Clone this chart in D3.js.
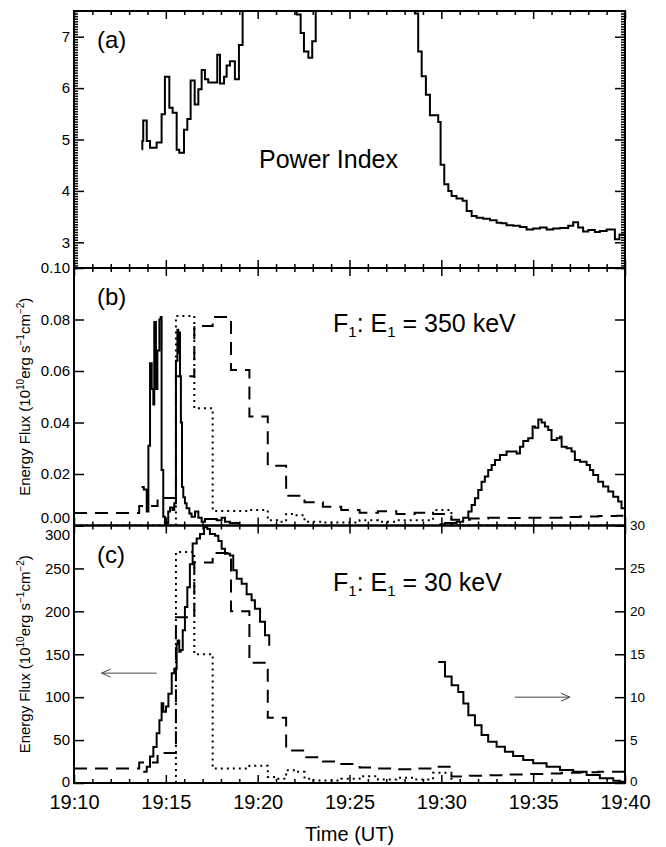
<!DOCTYPE html>
<html>
<head>
<meta charset="utf-8">
<script src="https://cdn.jsdelivr.net/npm/d3@7"></script>
<style>
  body { margin: 0; background: #fff; }
  svg text { font-family: "Liberation Sans", Arial, Helvetica, sans-serif; fill: #000; }
</style>
</head>
<body>
<div id="chart"></div>
<script>
// time values are minutes after 19:10 UT
var xTickMinutes = [0, 5, 10, 15, 20, 25, 30];
var xTickLabels  = ["19:10", "19:15", "19:20", "19:25", "19:30", "19:35", "19:40"];

var powerTicks = [3, 4, 5, 6, 7];
var fluxBTicks = [0, 0.02, 0.04, 0.06, 0.08, 0.10];
var fluxBLabels = ["0.00", "0.02", "0.04", "0.06", "0.08", "0.10"];
var fluxCTicks = [0, 50, 100, 150, 200, 250, 300];
var fluxCRightTicks = [0, 5, 10, 15, 20, 25, 30];

// (a) power index
var powerTime = [3.68, 3.72, 3.77, 3.96, 4.14, 4.50, 4.77, 4.95, 5.19, 5.37, 5.59, 5.73, 5.99, 6.17, 6.35,
                 6.57, 6.77, 6.95, 7.13, 7.31, 7.80, 7.95, 8.17, 8.31, 8.49, 8.76, 8.98, 9.18,
                 12.12, 12.34, 12.52, 12.76, 12.97, 13.16,
                 18.56, 18.74, 18.93, 19.16, 19.38, 19.83, 19.96, 20.16, 20.38, 20.56, 20.83, 21.16,
                 21.38, 21.65, 21.92, 22.28, 22.65, 23.01, 23.28, 23.55, 23.91, 24.28, 24.64, 25.00,
                 25.37, 25.73, 26.09, 26.46, 26.91, 27.18, 27.45, 27.72, 28.00, 28.36, 28.63, 29.00,
                 29.27, 29.45, 29.70, 30.0];
var powerVal  = [4.81, 4.97, 5.37, 4.97, 4.84, 4.94, 5.49, 6.22, 5.62, 5.52, 4.80, 4.74, 5.19, 5.40, 6.15,
                 5.68, 5.98, 6.35, 6.17, 6.11, 6.65, 6.09, 6.22, 6.44, 6.52, 6.17, 6.84, 8.6,
                 7.43, 7.07, 6.71, 6.59, 6.91, 8.4,
                 7.45, 6.71, 6.23, 5.87, 5.47, 5.34, 4.51, 4.13, 4.00, 3.90, 3.85, 3.81,
                 3.61, 3.51, 3.48, 3.46, 3.43, 3.38, 3.37, 3.33, 3.32, 3.30, 3.25, 3.27,
                 3.29, 3.25, 3.27, 3.28, 3.32, 3.39, 3.29, 3.21, 3.24, 3.20, 3.22, 3.25,
                 3.25, 3.06, 3.15, 3.15];

// (b) 350 keV, solid: early spikes and late hump
var solidB1Time = [3.68, 3.80, 3.96, 4.05, 4.14, 4.23, 4.32, 4.37, 4.46, 4.54, 4.65, 4.72, 4.77, 4.86, 4.95,
                   5.04, 5.13, 5.23, 5.37, 5.46, 5.55, 5.63, 5.68, 5.73, 5.77, 5.82, 5.88, 5.95, 6.04,
                   6.13, 6.28, 6.40, 6.59, 6.77, 6.95, 7.13, 7.40, 7.77, 8.04, 8.22, 8.49, 9.04];
var solidB1Val  = [0.015, 0.014, 0.0054, 0.031, 0.063, 0.053, 0.047, 0.079, 0.053, 0.068, 0.080, 0.081, 0.0216, 0.0034, 0.0,
                   0.001, 0.0054, 0.007, 0.006, 0.0086, 0.064, 0.076, 0.067, 0.075, 0.058, 0.040, 0.015, 0.011, 0.0086,
                   0.0067, 0.0047, 0.0034, 0.0054, 0.003, 0.0015, 0.0025, 0.0025, 0.002, 0.003, 0.0015, 0.001, 0.001];
var solidB2Time = [19.9, 20.2, 20.83, 21.19, 21.47, 21.65, 21.83, 22.01, 22.19, 22.37, 22.55, 22.74, 22.92, 23.19,
                   23.55, 23.91, 24.10, 24.28, 24.46, 24.73, 24.97, 25.10, 25.28, 25.46, 25.64, 25.82, 26.00,
                   26.28, 26.46, 26.55, 26.82, 27.09, 27.27, 27.55, 27.91, 28.09, 28.27, 28.54, 28.81, 29.09,
                   29.36, 29.63, 29.81, 30.0];
var solidB2Val  = [0.0005, 0.001, 0.0015, 0.003, 0.0054, 0.008, 0.0106, 0.0138, 0.017, 0.019, 0.0216, 0.0235, 0.0254, 0.0274,
                   0.0287, 0.0287, 0.028, 0.0306, 0.0328, 0.0339, 0.0384, 0.038, 0.0412, 0.040, 0.0384, 0.0371, 0.0332,
                   0.0339, 0.0345, 0.0306, 0.030, 0.0287, 0.0254, 0.0248, 0.0235, 0.0216, 0.0196, 0.017, 0.0151, 0.0132,
                   0.0112, 0.0093, 0.0067, 0.0047];

// (b) dashed, one-minute bins
var dashedBTime = [0, 3.55, 4.55, 5.55, 6.55, 7.55, 8.55, 9.55, 10.55, 11.55, 12.55, 13.55, 14.55, 15.55,
                   16.55, 17.55, 18.55, 19.55, 20.55, 21.55, 22.55, 23.55, 24.55, 25.55, 26.55, 27.55,
                   28.55, 29.55, 30];
var dashedBVal  = [0.0049, 0.0076, 0.0107, 0.058, 0.0775, 0.081, 0.0604, 0.0423, 0.0232, 0.0116, 0.009, 0.0073, 0.006, 0.005,
                   0.0055, 0.0045, 0.005, 0.0045, 0.0022, 0.0027, 0.003, 0.0029, 0.003, 0.003, 0.0033, 0.0035,
                   0.0037, 0.0038, 0.0038];

// (b) dotted
var dottedBTime = [0, 5.55, 6.55, 7.55, 8.55, 9.55, 10.55, 11.05, 11.55, 12.05, 12.55, 13.55, 15.55, 16.55,
                   17.55, 19.55, 20.55, 30];
var dottedBVal  = [0, 0.0814, 0.0455, 0.0056, 0.0056, 0.006, 0.002, 0.0015, 0.0045, 0.004, 0.0015, 0.0012, 0.002, 0.0015,
                   0.002, 0.006, 0, 0];

// (c) 30 keV, solid on the left axis
var solidC1Time = [3.77, 3.96, 4.14, 4.32, 4.50, 4.65, 4.77, 4.86, 5.01, 5.14, 5.32, 5.46, 5.59, 5.64, 5.73,
                   5.81, 5.92, 6.04, 6.17, 6.31, 6.46, 6.68, 6.86, 7.08, 7.26, 7.40, 7.68, 7.86, 8.04,
                   8.22, 8.49, 8.67, 8.86, 9.13, 9.40, 9.67, 9.85, 10.13, 10.40, 10.63];
var solidC1Val  = [13, 19, 31, 42, 58, 73, 93, 83, 89, 104, 128, 133, 162, 166, 153,
                   155, 178, 205, 228, 255, 279, 285, 290, 298, 296, 290, 288, 282, 273,
                   267, 265, 248, 238, 232, 220, 213, 203, 188, 172, 160];

// (c) solid on the right axis
var solidC2Time = [19.83, 20.2, 20.56, 20.92, 21.2, 21.47, 21.83, 22.19, 22.55, 23.01, 23.46, 23.91, 24.46,
                   25.0, 25.73, 26.46, 27.18, 27.91, 28.63, 29.36, 29.72, 30.0];
var solidC2Val  = [14.1, 12.4, 11.4, 10.6, 9.27, 7.9, 6.74, 5.58, 4.8, 4.22, 3.64, 3.14, 2.67,
                   2.29, 1.9, 1.51, 1.31, 0.93, 0.54, 0.27, 0.15, 0.1];

// (c) dashed, one-minute bins
var dashedCTime = [0, 3.55, 4.55, 5.55, 6.55, 7.55, 8.55, 9.55, 10.55, 11.55, 12.55, 13.55, 14.55, 15.55,
                   16.55, 17.55, 18.55, 19.55, 20.55, 21.55, 22.55, 23.55, 24.55, 25.55, 26.55, 27.55,
                   28.55, 29.55, 30];
var dashedCVal  = [17, 24, 35, 193, 257, 268, 200, 140, 76, 38, 30, 25, 22, 18,
                   17, 16, 17, 19, 7.5, 8.5, 9, 10, 10.5, 11, 12, 12.5,
                   13, 13, 13];

// (c) dotted
var dottedCTime = [0, 5.55, 6.55, 7.55, 8.55, 9.55, 10.55, 11.05, 11.55, 12.05, 12.55, 13.05, 14.55, 15.55,
                   16.55, 17.55, 18.55, 19.55, 20.55, 30];
var dottedCVal  = [0, 269, 150, 17, 17, 20, 7, 5, 15, 13, 5, 3, 5, 8,
                   4, 6, 4, 12, 0, 0];

// layout
var svgWidth = 666, svgHeight = 847;
var plotLeft = 74, plotRight = 625;
var panels = [
  { name: "a", top: 11, bottom: 268 },
  { name: "b", top: 268, bottom: 525.5 },
  { name: "c", top: 525.5, bottom: 783 }
];

var svg = d3.select("#chart").append("svg")
  .attr("width", svgWidth)
  .attr("height", svgHeight);

svg.append("rect").attr("width", svgWidth).attr("height", svgHeight).attr("fill", "white");

var x = d3.scaleLinear().domain([0, 30]).range([plotLeft, plotRight]);

var yA = d3.scaleLinear().domain([2.5, 7.5]).range([panels[0].bottom, panels[0].top]);
var yB = d3.scaleLinear().domain([0, 0.10]).range([panels[1].bottom, panels[1].top]);
var yC = d3.scaleLinear().domain([0, 300]).range([panels[2].bottom, panels[2].top]);
var yCR = d3.scaleLinear().domain([0, 30]).range([panels[2].bottom, panels[2].top]);

// clip paths
var defs = svg.append("defs");
panels.forEach(function(p) {
  defs.append("clipPath").attr("id", "clip-" + p.name)
    .append("rect")
    .attr("x", plotLeft).attr("y", p.top)
    .attr("width", plotRight - plotLeft).attr("height", p.bottom - p.top);
});

function zip(ts, vs) { return ts.map(function(t, i) { return [t, vs[i]]; }); }

function drawSeries(panelName, ts, vs, yScale, style) {
  var line = d3.line()
    .x(function(d) { return x(d[0]); })
    .y(function(d) { return yScale(d[1]); })
    .curve(d3.curveStepAfter);
  svg.append("path")
    .datum(zip(ts, vs))
    .attr("clip-path", "url(#clip-" + panelName + ")")
    .attr("d", line)
    .attr("fill", "none")
    .attr("stroke", "black")
    .attr("stroke-width", style.width || 2)
    .attr("stroke-dasharray", style.dash || null);
}

var DASH = "13,8", DOT = "2,4";

drawSeries("a", powerTime, powerVal, yA, {});

drawSeries("b", dottedBTime, dottedBVal, yB, { dash: DOT });
drawSeries("b", dashedBTime, dashedBVal, yB, { dash: DASH });
drawSeries("b", solidB1Time, solidB1Val, yB, {});
drawSeries("b", solidB2Time, solidB2Val, yB, {});

drawSeries("c", dottedCTime, dottedCVal, yC, { dash: DOT });
drawSeries("c", dashedCTime, dashedCVal, yC, { dash: DASH });
drawSeries("c", solidC1Time, solidC1Val, yC, {});
drawSeries("c", solidC2Time, solidC2Val, yCR, {});

// axes and frames
var xMinor = d3.range(0, 31, 1).filter(function(m) { return m % 5 !== 0; });

function styleAxis(g, fontSize) {
  g.select(".domain").remove();
  g.selectAll(".tick line").attr("stroke", "black").attr("stroke-width", 1.5);
  g.selectAll(".tick text").attr("font-size", fontSize || 15)
    .attr("font-family", "Liberation Sans, Arial, sans-serif").attr("fill", "black");
}

panels.forEach(function(p, i) {
  // top and bottom time ticks
  [["top", p.top, d3.axisTop], ["bottom", p.bottom, d3.axisBottom]].forEach(function(s) {
    var gMaj = svg.append("g").attr("transform", "translate(0," + s[1] + ")")
      .call(s[2](x).tickValues(xTickMinutes).tickSize(-8).tickPadding(12)
        .tickFormat(function(d, k) { return (p.name === "c" && s[0] === "bottom") ? xTickLabels[k] : ""; }));
    styleAxis(gMaj, 20);
    var gMin = svg.append("g").attr("transform", "translate(0," + s[1] + ")")
      .call(s[2](x).tickValues(xMinor).tickSize(-4).tickFormat(""));
    styleAxis(gMin);
  });
});

// panel (a) y axes with dense minor ticks
var aMinor = d3.range(50, 151).map(function(k) { return k / 20; }).filter(function(v) { return Math.abs(v - Math.round(v)) > 1e-6; });
var gAL = svg.append("g").attr("transform", "translate(" + plotLeft + ",0)")
  .call(d3.axisLeft(yA).tickValues(powerTicks).tickSize(-10).tickPadding(4).tickFormat(d3.format("d")));
styleAxis(gAL, 15);
styleAxis(svg.append("g").attr("transform", "translate(" + plotLeft + ",0)")
  .call(d3.axisLeft(yA).tickValues(aMinor).tickSize(-4).tickFormat("")));
styleAxis(svg.append("g").attr("transform", "translate(" + plotRight + ",0)")
  .call(d3.axisRight(yA).tickValues(powerTicks).tickSize(-10).tickFormat("")));
styleAxis(svg.append("g").attr("transform", "translate(" + plotRight + ",0)")
  .call(d3.axisRight(yA).tickValues(aMinor).tickSize(-4).tickFormat("")));

// panel (b)
var gBL = svg.append("g").attr("transform", "translate(" + plotLeft + ",0)")
  .call(d3.axisLeft(yB).tickValues(fluxBTicks).tickSize(-10).tickPadding(4)
    .tickFormat(function(d, k) { return fluxBLabels[k]; }));
styleAxis(gBL, 15);
// 0.00 and 300 share the panel edge: push them apart a little
gBL.selectAll(".tick text").filter(function(d) { return d === 0; }).attr("dy", "-0.22em");
styleAxis(svg.append("g").attr("transform", "translate(" + plotRight + ",0)")
  .call(d3.axisRight(yB).tickValues(fluxBTicks).tickSize(-10).tickFormat("")));

// panel (c)
var gCL = svg.append("g").attr("transform", "translate(" + plotLeft + ",0)")
  .call(d3.axisLeft(yC).tickValues(fluxCTicks).tickSize(-10).tickPadding(4).tickFormat(d3.format("d")));
styleAxis(gCL, 15);
gCL.selectAll(".tick text").filter(function(d) { return d === 300; }).attr("dy", "0.95em");
gCL.selectAll(".tick text").filter(function(d) { return d === 0; }).attr("dy", "0.2em");
var gCR = svg.append("g").attr("transform", "translate(" + plotRight + ",0)")
  .call(d3.axisRight(yCR).tickValues(fluxCRightTicks).tickSize(-10).tickPadding(5).tickFormat(d3.format("d")));
styleAxis(gCR, 13.5);
gCR.selectAll(".tick text").filter(function(d) { return d === 0; }).attr("dy", "0.2em");

// frames
panels.forEach(function(p) {
  svg.append("rect")
    .attr("x", plotLeft).attr("y", p.top)
    .attr("width", plotRight - plotLeft).attr("height", p.bottom - p.top)
    .attr("fill", "none").attr("stroke", "black").attr("stroke-width", 2);
});

// panel letters
[["(a)", panels[0]], ["(b)", panels[1]], ["(c)", panels[2]]].forEach(function(d) {
  svg.append("text").attr("x", 97).attr("y", d[1].top + 37)
    .attr("font-size", 24).text(d[0]);
});

svg.append("text").attr("x", 259).attr("y", 168).attr("font-size", 25).text("Power Index");

function energyLabel(yBase, kev) {
  var t = svg.append("text").attr("x", 333).attr("y", yBase).attr("font-size", 25);
  t.append("tspan").text("F");
  t.append("tspan").attr("font-size", 15).attr("dy", 5).text("1");
  t.append("tspan").attr("dy", -5).text(": E");
  t.append("tspan").attr("font-size", 15).attr("dy", 5).text("1");
  t.append("tspan").attr("dy", -5).text(" = " + kev + " keV");
}
energyLabel(332, "350");
energyLabel(591, "30");

function fluxLabel(yMid) {
  var t = svg.append("text")
    .attr("transform", "translate(30," + yMid + ") rotate(-90)")
    .attr("text-anchor", "middle")
    .attr("font-size", 15);
  t.append("tspan").text("Energy Flux (10");
  t.append("tspan").attr("font-size", 10).attr("dy", -6).text("10");
  t.append("tspan").attr("dy", 6).text("erg s");
  t.append("tspan").attr("font-size", 10).attr("dy", -6).text("\u22121");
  t.append("tspan").attr("dy", 6).text("cm");
  t.append("tspan").attr("font-size", 10).attr("dy", -6).text("\u22122");
  t.append("tspan").attr("dy", 6).text(")");
}
fluxLabel((panels[1].top + panels[1].bottom) / 2);
fluxLabel((panels[2].top + panels[2].bottom) / 2);

svg.append("text")
  .attr("x", (plotLeft + plotRight) / 2).attr("y", 841)
  .attr("text-anchor", "middle").attr("font-size", 20)
  .text("Time (UT)");

// arrows pointing to the axis each solid curve uses
function arrow(x1, x2, yy) {
  var dir = x2 < x1 ? 1 : -1;
  var g = svg.append("g").attr("stroke", "#444").attr("stroke-width", 1).attr("fill", "none");
  g.append("line").attr("x1", x1).attr("y1", yy).attr("x2", x2).attr("y2", yy);
  g.append("path").attr("d", "M" + (x2 + dir * 9) + "," + (yy - 4) + "L" + x2 + "," + yy + "L" + (x2 + dir * 9) + "," + (yy + 4));
}
arrow(x(4.5), x(1.5), yC(128));
arrow(x(24.0), x(27.0), yCR(10));
</script>
</body>
</html>
